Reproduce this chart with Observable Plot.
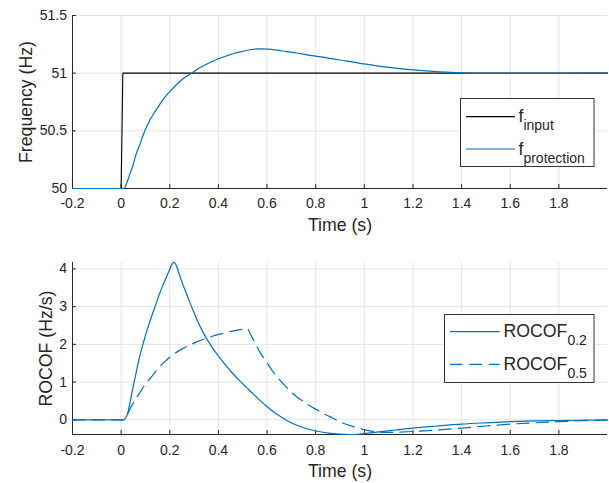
<!DOCTYPE html>
<html><head><meta charset="utf-8">
<script src="https://cdn.jsdelivr.net/npm/d3@7"></script>
<script src="https://cdn.jsdelivr.net/npm/@observablehq/plot@0.6"></script>
<style>
html,body{margin:0;padding:0;background:#fff;}
#chart{width:609px;height:483px;position:relative;}
#chart svg{display:block;}
</style></head><body><div id="chart"></div>
<script>
// ---------- data ----------
const xTicks = [-0.2, 0, 0.2, 0.4, 0.6, 0.8, 1, 1.2, 1.4, 1.6, 1.8];
const xDomain = [-0.2, 2.0];
const freqTicks = [50, 50.5, 51, 51.5];
const freqDomain = [50, 51.5];
const rocofTicks = [0, 1, 2, 3, 4];
const rocofDomain = [-0.39, 4.17];

const tInput = [-0.2, 0, 0.007, 2.0];
const fInput = [50, 50, 51, 51];

const tProt = [-0.2, 0, 0.012, 0.02, 0.035, 0.05, 0.062, 0.075, 0.09, 0.11, 0.131, 0.15, 0.172, 0.2, 0.227, 0.26, 0.289, 0.325, 0.364, 0.4, 0.433, 0.47, 0.501, 0.535, 0.57, 0.605, 0.639, 0.68, 0.721, 0.776, 0.82, 0.9, 0.995, 1.09, 1.2, 1.31, 1.4, 1.5, 1.6, 1.8, 2.0];
const fProt = [50, 50, 50, 50.03, 50.12, 50.21, 50.30, 50.37, 50.46, 50.56, 50.64, 50.70, 50.77, 50.84, 50.90, 50.96, 51.0, 51.05, 51.09, 51.125, 51.15, 51.175, 51.19, 51.205, 51.21, 51.208, 51.20, 51.187, 51.175, 51.155, 51.142, 51.114, 51.081, 51.052, 51.029, 51.012, 51.003, 50.999, 50.998, 50.999, 51.0];

const tR02 = [-0.2, 0.008, 0.012, 0.02, 0.028, 0.035, 0.042, 0.05, 0.058, 0.066, 0.076, 0.09, 0.104, 0.118, 0.131, 0.145, 0.158, 0.172, 0.186, 0.2, 0.207, 0.213, 0.218, 0.222, 0.227, 0.237, 0.248, 0.265, 0.282, 0.3, 0.316, 0.333, 0.35, 0.37, 0.392, 0.413, 0.433, 0.46, 0.488, 0.515, 0.55, 0.598, 0.625, 0.652, 0.685, 0.721, 0.76, 0.797, 0.86, 0.92, 0.96, 1.0, 1.06, 1.13, 1.2, 1.3, 1.4, 1.5, 1.6, 1.7, 1.8, 1.9, 2.0];
const rR02 = [0, 0, 0.01, 0.06, 0.2, 0.41, 0.64, 0.89, 1.13, 1.38, 1.67, 2.01, 2.32, 2.60, 2.85, 3.10, 3.34, 3.57, 3.78, 3.99, 4.10, 4.16, 4.17, 4.15, 4.09, 3.90, 3.69, 3.40, 3.12, 2.84, 2.59, 2.37, 2.17, 1.96, 1.76, 1.58, 1.42, 1.22, 1.03, 0.86, 0.64, 0.36, 0.22, 0.10, -0.03, -0.14, -0.23, -0.29, -0.36, -0.385, -0.39, -0.365, -0.32, -0.27, -0.22, -0.165, -0.115, -0.08, -0.05, -0.03, -0.02, -0.01, 0.0];

const tR05 = [-0.2, 0.01, 0.02, 0.035, 0.055, 0.076, 0.095, 0.117, 0.137, 0.158, 0.18, 0.2, 0.24, 0.275, 0.309, 0.35, 0.405, 0.45, 0.488, 0.51, 0.52, 0.529, 0.55, 0.57, 0.598, 0.625, 0.666, 0.707, 0.762, 0.803, 0.84, 0.872, 0.913, 0.954, 0.995, 1.05, 1.08, 1.2, 1.3, 1.4, 1.5, 1.6, 1.7, 1.8, 1.9, 2.0];
const rR05 = [0, 0, 0.07, 0.27, 0.50, 0.71, 0.90, 1.08, 1.24, 1.40, 1.54, 1.66, 1.84, 1.96, 2.06, 2.16, 2.27, 2.34, 2.39, 2.41, 2.42, 2.30, 2.05, 1.80, 1.53, 1.27, 0.96, 0.69, 0.43, 0.27, 0.14, 0.04, -0.09, -0.18, -0.255, -0.32, -0.335, -0.31, -0.27, -0.22, -0.165, -0.115, -0.08, -0.05, -0.025, -0.01];

const topLegendMain = ["f", "f"];
const topLegendSub = ["input", "protection"];
const botLegendMain = ["ROCOF", "ROCOF"];
const botLegendSub = ["0.2", "0.5"];
const xLabel = "Time (s)";
const freqLabel = "Frequency (Hz)";
const rocofLabel = "ROCOF (Hz/s)";

// ---------- style ----------
const W = 609;
const font = "'Liberation Sans', Arial, Helvetica, sans-serif";
const ink = "#262626";
const gridColor = "#e4e4e4";
const blue = "#0072BD";
const fmt = d => String(d);
const zip = (ts, vs) => ts.map((t, i) => ({t, v: vs[i]}));

function panel({height, mt, mb, ml, mr, yDomain, yTicks, yLabel, yLabelDx, xPad, series}) {
  const frameH = height - mt - mb;
  const frameW = W - ml - mr;
  return Plot.plot({
    width: W, height,
    marginTop: mt, marginBottom: mb, marginLeft: ml, marginRight: mr,
    style: {fontFamily: font, background: "white", color: ink, overflow: "visible"},
    x: {domain: xDomain},
    y: {domain: yDomain},
    marks: [
      Plot.gridX(xTicks, {stroke: gridColor, strokeOpacity: 1}),
      Plot.gridY(yTicks, {stroke: gridColor, strokeOpacity: 1}),
      Plot.ruleX([xDomain[0]], {stroke: ink, strokeWidth: 1}),
      Plot.ruleY([yDomain[0]], {stroke: ink, strokeWidth: 1}),
      Plot.tickX(xTicks, {x: d => d, stroke: ink, insetTop: frameH - 4}),
      Plot.tickY(yTicks, {y: d => d, stroke: ink, insetRight: frameW - 4}),
      ...series,
      Plot.axisX(xTicks, {tickSize: 0, tickPadding: xPad, tickFormat: fmt, fontSize: 14, label: null}),
      Plot.axisY(yTicks, {tickSize: 0, tickPadding: 5.5, tickFormat: fmt, fontSize: 14, textAnchor: "end", label: null}),
      Plot.text([xLabel], {text: d => d, frameAnchor: "bottom", lineAnchor: "bottom", textAnchor: "middle", dy: 42.8, fontSize: 17.7, fill: ink}),
      Plot.text([yLabel], {text: d => d, frameAnchor: "left", textAnchor: "middle", lineAnchor: "middle", rotate: -90, dx: yLabelDx, fontSize: 17.7, fill: ink})
    ]
  });
}

function addLegend(svg, box, mains, subs, styles) {
  const g = d3.select(svg).append("g").attr("text-anchor", "start");
  g.append("rect").attr("x", box.x).attr("y", box.y).attr("width", box.w).attr("height", box.h)
    .attr("fill", "white").attr("stroke", "#333").attr("stroke-width", 1);
  mains.forEach((m, i) => {
    const y = box.y + box.rows[i];
    g.append("line").attr("x1", box.x + box.l1).attr("x2", box.x + box.l2).attr("y1", y).attr("y2", y)
      .attr("stroke", styles[i].stroke).attr("stroke-width", 1.2)
      .attr("stroke-dasharray", styles[i].dash || null);
    const t = g.append("text").attr("x", box.x + box.tx).attr("y", y + 5.5)
      .attr("text-anchor", "start")
      .attr("font-family", font).attr("font-size", 17.7).attr("fill", ink);
    t.append("tspan").text(m);
    t.append("tspan").attr("font-size", 14).attr("dy", 8).text(subs[i]);
  });
}

const topSvg = panel({
  height: 240, mt: 15, mb: 52, ml: 72, mr: 2,
  yDomain: freqDomain, yTicks: freqTicks, yLabel: freqLabel, yLabelDx: -46.5, xPad: 10,
  series: [
    Plot.line(zip(tInput, fInput), {x: "t", y: "v", stroke: "#000", strokeWidth: 1.1}),
    Plot.line(zip(tProt, fProt), {x: "t", y: "v", stroke: blue, strokeWidth: 1.2, curve: "monotone-x"})
  ]
});
addLegend(topSvg, {x: 460.5, y: 98.5, w: 133.5, h: 68, rows: [18.2, 50.5], l1: 5.5, l2: 54.5, tx: 58},
  topLegendMain, topLegendSub, [{stroke: "#000"}, {stroke: blue}]);

const botSvg = panel({
  height: 243, mt: 22, mb: 49, ml: 72, mr: 2,
  yDomain: rocofDomain, yTicks: rocofTicks, yLabel: rocofLabel, yLabelDx: -26.2, xPad: 10.8,
  series: [
    Plot.line(zip(tR05, rR05), {x: "t", y: "v", stroke: blue, strokeWidth: 1.2, strokeDasharray: "12.5,7", curve: "monotone-x"}),
    Plot.line(zip(tR02, rR02), {x: "t", y: "v", stroke: blue, strokeWidth: 1.2, curve: "monotone-x"})
  ]
});
addLegend(botSvg, {x: 444.5, y: 74.5, w: 149.5, h: 68, rows: [17.2, 49.8], l1: 5.5, l2: 55, tx: 59},
  botLegendMain, botLegendSub, [{stroke: blue}, {stroke: blue, dash: "12.5,7"}]);

document.getElementById("chart").append(topSvg, botSvg);
</script></body></html>
